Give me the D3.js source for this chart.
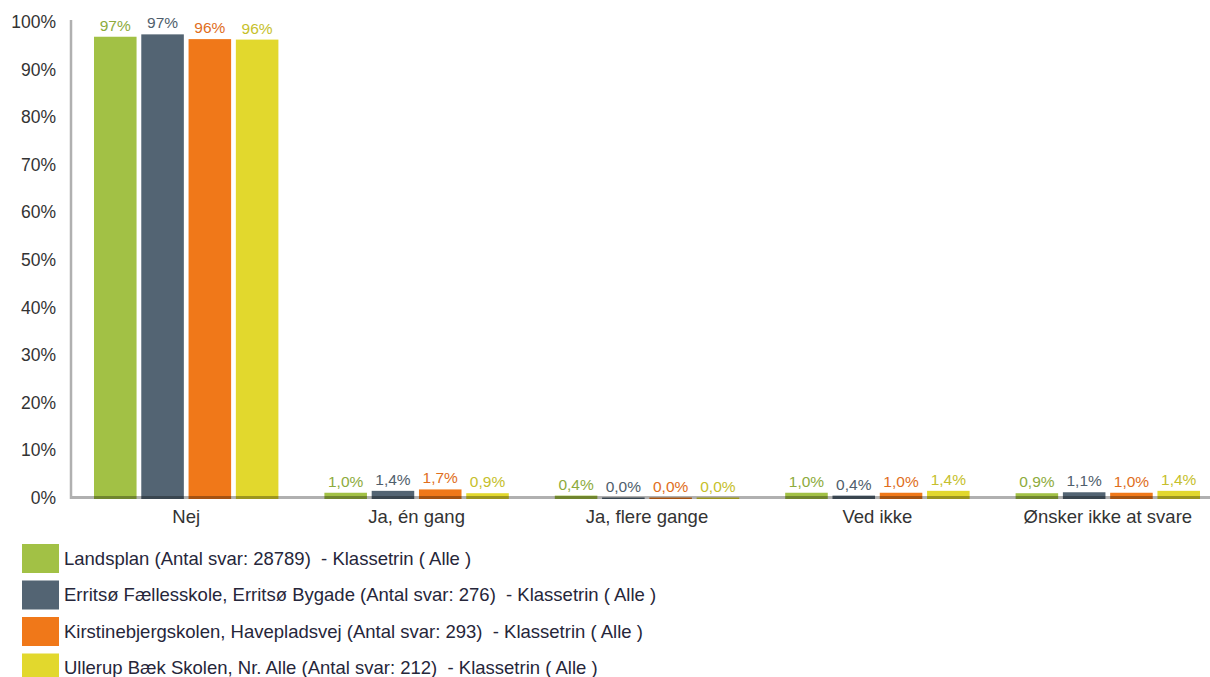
<!DOCTYPE html>
<html>
<head>
<meta charset="utf-8">
<script src="https://cdn.jsdelivr.net/npm/d3@7"></script>
<style>
  html, body { margin: 0; padding: 0; background: #fff; }
  svg { display: block; font-family: "Liberation Sans", Arial, sans-serif; }
</style>
</head>
<body>
<svg id="chart" width="1210" height="677"></svg>
<script>
// Answer categories along the x axis
const categories = ["Nej", "Ja, én gang", "Ja, flere gange", "Ved ikke", "Ønsker ikke at svare"];

// Series names (legend) and their shares in percent, one value per category
const seriesNames = [
  "Landsplan (Antal svar: 28789)  - Klassetrin ( Alle )",
  "Erritsø Fællesskole, Erritsø Bygade (Antal svar: 276)  - Klassetrin ( Alle )",
  "Kirstinebjergskolen, Havepladsvej (Antal svar: 293)  - Klassetrin ( Alle )",
  "Ullerup Bæk Skolen, Nr. Alle (Antal svar: 212)  - Klassetrin ( Alle )"
];
const landsplan = [96.9, 1.0, 0.4, 1.0, 0.9];
const erritsoe  = [97.4, 1.4, 0.0, 0.4, 1.1];
const kirstinebjerg = [96.4, 1.7, 0.0, 1.0, 1.0];
const ullerup   = [96.3, 0.9, 0.0, 1.4, 1.4];
const seriesValues = [landsplan, erritsoe, kirstinebjerg, ullerup];

// Y axis tick values (percent)
const yTicks = [0, 10, 20, 30, 40, 50, 60, 70, 80, 90, 100];

// Bar fills and label text colours per series
const barColors = ["#a2c145", "#536473", "#f07819", "#e2d82d"];
const labelColors = ["#8dab3c", "#4f5e6c", "#e06e1c", "#c6bf2c"];

const svg = d3.select("#chart");

const xLeft = 71, xRight = 1223;
const yTop = 22, yZero = 497.5;

const x0 = d3.scaleBand().domain(categories).range([xLeft, xRight]).padding(0);
const x1 = d3.scaleBand().domain(d3.range(seriesNames.length))
  .range([23, x0.bandwidth() - 23]).paddingInner(0.1).paddingOuter(0);
const y = d3.scaleLinear().domain([0, 100]).range([yZero, yTop]);

// Flatten the series into bar records
const bars = [];
seriesValues.forEach((vals, s) => {
  vals.forEach((v, c) => bars.push({ s, c, v, cat: categories[c] }));
});

// Labels: whole percent in the first category, one decimal (comma) elsewhere
const fmtLabel = d => d.c === 0
  ? Math.round(d.v) + "%"
  : d3.format(".1f")(d.v).replace(".", ",") + "%";

// Bars (extend slightly below the baseline so the axis stroke darkens their foot)
svg.append("g").selectAll("rect").data(bars).join("rect")
  .attr("x", d => x0(d.cat) + x1(d.s))
  .attr("width", x1.bandwidth())
  .attr("y", d => y(d.v))
  .attr("height", d => yZero + 1.5 - y(d.v))
  .attr("fill", d => barColors[d.s]);

// Value labels
svg.append("g").selectAll("text").data(bars).join("text")
  .attr("x", d => x0(d.cat) + x1(d.s) + x1.bandwidth() / 2)
  .attr("y", d => y(d.v) - 6)
  .attr("text-anchor", "middle")
  .attr("font-size", 15.5)
  .attr("fill", d => labelColors[d.s])
  .text(fmtLabel);

// Y axis: tick labels only, plus a translucent vertical rule
const yAxis = d3.axisLeft(y).tickValues(yTicks).tickFormat(d => d + "%").tickSize(0).tickPadding(0);
const gy = svg.append("g").attr("transform", "translate(56,0)").call(yAxis);
gy.select(".domain").remove();
gy.selectAll("text")
  .attr("font-size", 17.5)
  .attr("font-family", "Liberation Sans, Arial, sans-serif")
  .attr("fill", "#333")
  .attr("dy", "0.33em");

svg.append("line")
  .attr("x1", xLeft).attr("x2", xLeft)
  .attr("y1", 20).attr("y2", yZero - 1.5)
  .attr("stroke", "rgba(0,0,0,0.31)").attr("stroke-width", 2.5);

// X axis baseline drawn over the bars
svg.append("line")
  .attr("x1", xLeft - 1.25).attr("x2", 1210)
  .attr("y1", yZero).attr("y2", yZero)
  .attr("stroke", "rgba(0,0,0,0.31)").attr("stroke-width", 3);

// Category labels
const xAxis = d3.axisBottom(x0).tickSize(0).tickPadding(0);
const gx = svg.append("g").attr("transform", `translate(0,${yZero})`).call(xAxis);
gx.select(".domain").remove();
gx.selectAll("text")
  .attr("font-size", 18.5)
  .attr("font-family", "Liberation Sans, Arial, sans-serif")
  .attr("fill", "#333")
  .attr("dy", 0)
  .attr("y", 25.5);

// Legend
const legend = svg.append("g").selectAll("g").data(seriesNames).join("g")
  .attr("transform", (d, i) => `translate(22,${544 + i * 36.5})`);
legend.append("rect")
  .attr("width", 37).attr("height", 29)
  .attr("fill", (d, i) => barColors[i]);
legend.append("text")
  .attr("x", 42).attr("y", 14.5).attr("dy", "0.35em")
  .attr("font-size", 18.5)
  .attr("fill", "#26263a")
  .attr("xml:space", "preserve")
  .style("white-space", "pre")
  .text(d => d);
</script>
</body>
</html>
